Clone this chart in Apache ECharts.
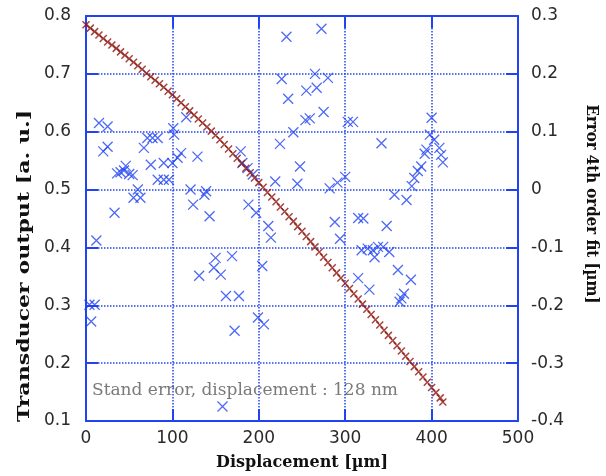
<!DOCTYPE html>
<html><head><meta charset="utf-8">
<script src="https://cdn.jsdelivr.net/npm/echarts@6/dist/echarts.min.js"></script>
<style>html,body{margin:0;padding:0;background:#fff}#c{width:606px;height:476px}</style>
</head><body><div id="c"></div>
<script>
// Transducer output (left axis) vs displacement
const fitX = [0,5,10,15,20,25,30,35,40,45,50,55,60,65,70,75,80,85,90,95,100,105,110,115,120,125,130,135,140,145,150,155,160,165,170,175,180,185,190,195,200,205,210,215,220,225,230,235,240,245,250,255,260,265,270,275,280,285,290,295,300,305,310,315,320,325,330,335,340,345,350,355,360,365,370,375,380,385,390,395,400,405,410,413];
const fitY = [0.785,0.779,0.773,0.767,0.761,0.755,0.750,0.744,0.738,0.732,0.726,0.720,0.714,0.708,0.701,0.695,0.689,0.683,0.677,0.670,0.664,0.657,0.650,0.643,0.636,0.629,0.622,0.615,0.608,0.601,0.594,0.586,0.578,0.570,0.562,0.554,0.545,0.537,0.529,0.520,0.512,0.504,0.495,0.487,0.479,0.470,0.462,0.453,0.445,0.436,0.428,0.419,0.410,0.401,0.392,0.383,0.374,0.365,0.356,0.347,0.338,0.329,0.320,0.311,0.302,0.293,0.284,0.275,0.266,0.257,0.248,0.239,0.230,0.221,0.212,0.203,0.194,0.185,0.176,0.167,0.158,0.149,0.140,0.133];
// Error of 4th order fit (right axis)
const errX = [4,10,6,12,15,25,25,20,33,36,40,44,46,50,54,60,55,63,67,71,77,83,75,90,83,90,96,101,102,110,100,106,116,129,121,137,139,124,143,131,150,148,156,169,162,177,172,158,179,181,187,193,188,197,199,206,204,211,214,219,224.5,226.5,232,234,240,244.6,247.7,254,259,255,267,265,280,275,272.5,282,291,300,303,309,288,294,315,321,342,348,319,326,332,338,334,344,351,315,328,361,376,368,365,363,357,371,377,380,384,388,392,394,398,400,403,409,411,413];
const errY = [-0.199,-0.199,-0.228,-0.088,0.115,0.109,0.074,0.066,-0.040,0.028,0.030,0.033,0.041,0.027,0.025,0.000,-0.014,-0.014,0.072,0.089,0.089,0.089,0.043,0.046,0.017,0.017,0.017,0.106,0.095,0.063,0.046,0.055,0.125,0.057,0.000,-0.009,-0.003,-0.026,-0.046,-0.149,-0.118,-0.135,-0.147,-0.115,-0.184,-0.184,-0.244,-0.375,0.066,0.046,0.037,0.026,-0.026,-0.040,-0.221,-0.233,-0.132,-0.063,-0.083,0.014,0.079,0.191,0.264,0.157,0.099,0.010,0.040,0.120,0.123,0.171,0.176,0.200,0.193,0.134,0.278,0.002,0.012,0.022,0.117,0.117,-0.056,-0.085,-0.049,-0.050,0.080,-0.063,-0.105,-0.102,-0.105,-0.099,-0.117,-0.099,-0.108,-0.153,-0.173,-0.139,-0.156,-0.180,-0.188,-0.194,-0.009,-0.018,0.006,0.020,0.032,0.040,0.062,0.069,0.095,0.124,0.086,0.072,0.060,0.047];

const xTitle = 'Displacement [µm]';
const yLeftTitle = 'Transducer output [a. u.]';
const yRightTitle = 'Error 4th order fit [µm]';
const note = 'Stand error, displacement : 128 nm';

const BLUE = '#2243f2';
const X_SYM = 'path://M0,0L10,10M10,0L0,10';
const fmt = v => Math.abs(v) < 1e-9 ? '0' : v.toFixed(1);
const labelFont = {fontFamily: 'DejaVu Sans', fontSize: 17, color: '#2a2a2a'};
const gridLine = () => ({show: true, lineStyle: {color: BLUE, width: 1.5, type: 'dotted', opacity: 1}});

const chart = echarts.init(document.getElementById('c'));
chart.setOption({
  animation: false,
  grid: {left: 86, right: 88, top: 16, bottom: 54},
  xAxis: [{
    type: 'value', min: 0, max: 500, interval: 100, position: 'bottom',
    name: xTitle, nameLocation: 'middle', nameGap: 34,
    nameTextStyle: {fontFamily: 'DejaVu Serif', fontWeight: 'bold', fontSize: 16, color: '#111'},
    axisLine: {show: true, onZero: false, lineStyle: {color: BLUE, width: 2}},
    axisTick: {show: true, inside: true, length: 12, lineStyle: {color: BLUE, width: 2}},
    axisLabel: Object.assign({margin: 9}, labelFont),
    splitLine: gridLine()
  }, {
    type: 'value', min: 0, max: 500, interval: 100, position: 'top',
    axisLine: {show: true, onZero: false, lineStyle: {color: BLUE, width: 2}},
    axisTick: {show: true, inside: true, length: 12, lineStyle: {color: BLUE, width: 2}},
    axisLabel: {show: false}, splitLine: {show: false}
  }],
  yAxis: [{
    type: 'value', min: 0.1, max: 0.8, interval: 0.1, position: 'left',
    axisLine: {show: true, onZero: false, lineStyle: {color: BLUE, width: 2}},
    axisTick: {show: true, inside: true, length: 12, lineStyle: {color: BLUE, width: 2}},
    axisLabel: Object.assign({margin: 15, formatter: fmt}, labelFont),
    splitLine: gridLine()
  }, {
    type: 'value', min: -0.4, max: 0.3, interval: 0.1, position: 'right',
    axisLine: {show: true, onZero: false, lineStyle: {color: BLUE, width: 2}},
    axisTick: {show: true, inside: true, length: 12, lineStyle: {color: BLUE, width: 2}},
    axisLabel: Object.assign({margin: 13, formatter: fmt}, labelFont),
    splitLine: {show: false}
  }],
  graphic: [
    {type: 'text', x: 25, y: 266, rotation: Math.PI / 2, scaleX: 1.38,
     style: {text: yLeftTitle, fontFamily: 'DejaVu Serif', fontWeight: 'bold', fontSize: 16, fill: '#111', align: 'center', verticalAlign: 'middle'}},
    {type: 'text', x: 591, y: 204, rotation: -Math.PI / 2, scaleY: 1.15,
     style: {text: yRightTitle, fontFamily: 'DejaVu Serif', fontWeight: 'bold', fontSize: 15, fill: '#111', align: 'center', verticalAlign: 'middle'}},
    {type: 'text', x: 92, y: 391,
     style: {text: note, fontFamily: 'DejaVu Serif', fontSize: 17, fill: '#7a7a7a', align: 'left', verticalAlign: 'middle'}}
  ],
  series: [{
    type: 'scatter', xAxisIndex: 0, yAxisIndex: 1,
    data: errX.map((x, i) => [x, errY[i]]),
    symbol: X_SYM, symbolSize: 10,
    itemStyle: {color: 'none', borderColor: BLUE, borderWidth: 1.3}
  }, {
    type: 'scatter', xAxisIndex: 0, yAxisIndex: 0,
    data: fitX.map((x, i) => [x, fitY[i]]),
    symbol: X_SYM, symbolSize: 7,
    itemStyle: {color: 'none', borderColor: '#8f160f', borderWidth: 1.5}
  }]
});
</script></body></html>
